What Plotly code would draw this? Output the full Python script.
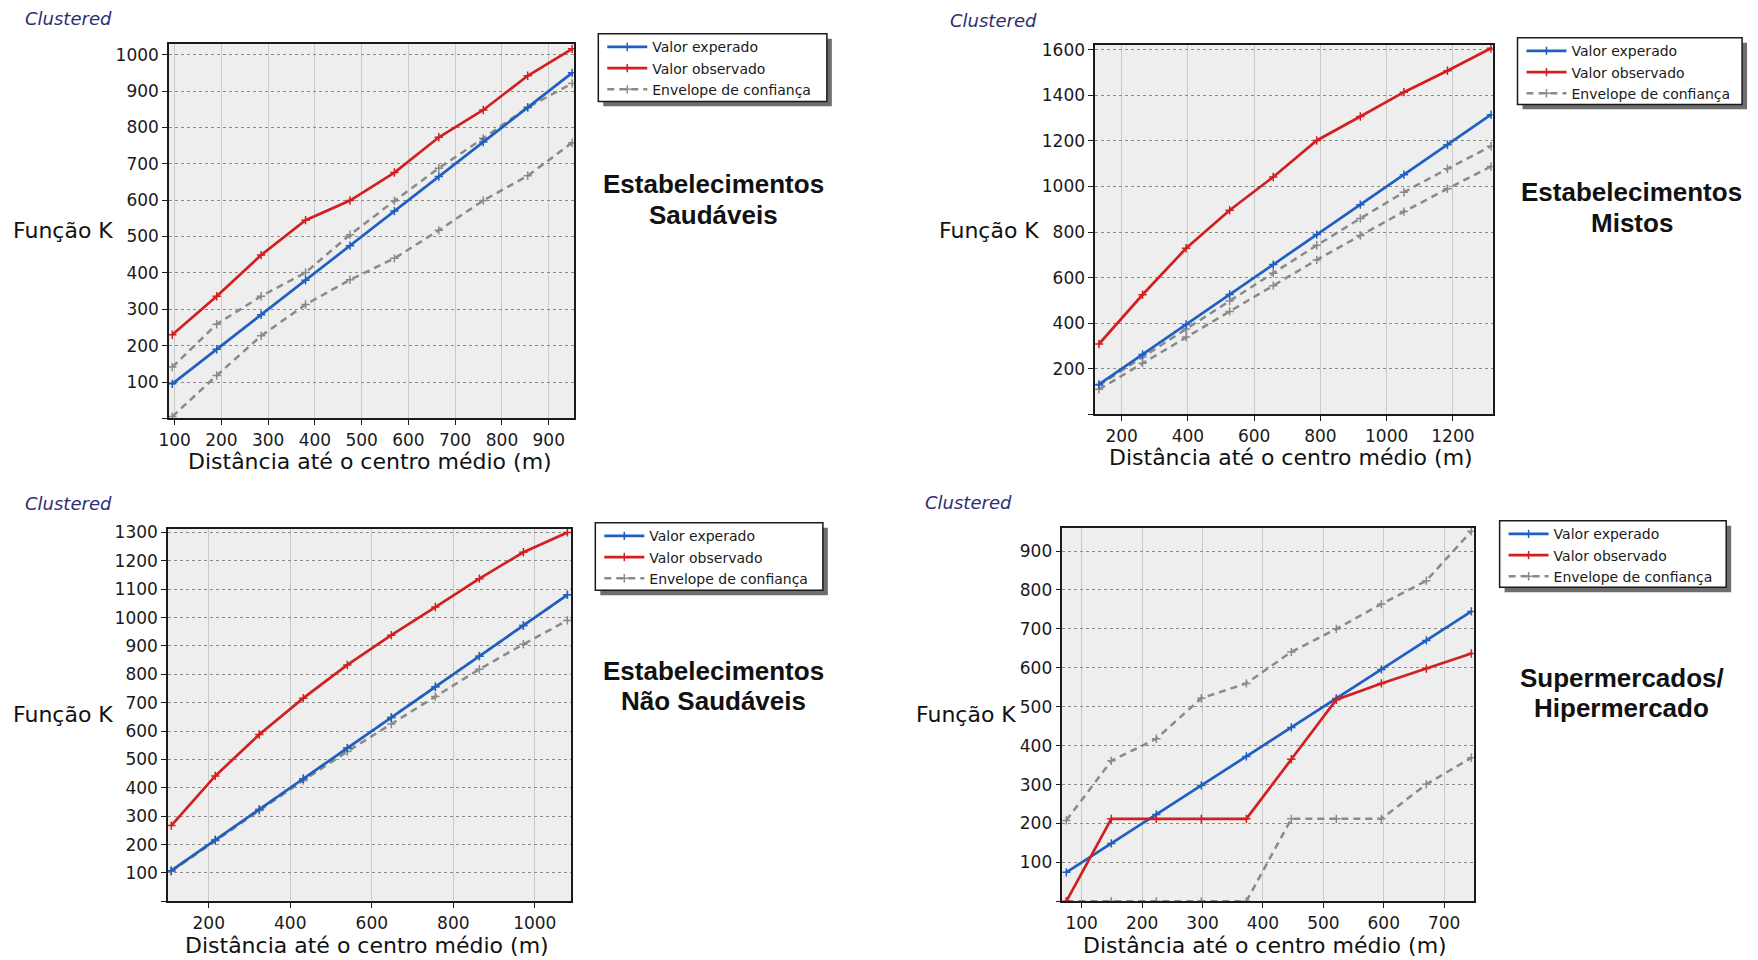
import plotly.graph_objects as go

W, H = 1758, 960

# ---------------- data ----------------
# Painel 1: Estabelecimentos Saudáveis
dist_saud = [95, 190, 285, 380, 475, 570, 665, 760, 855, 950]
esp_saud = [95, 190, 285, 380, 475, 570, 665, 760, 855, 950]
obs_saud = [230, 336, 449, 545, 599, 676, 773, 848, 942, 1016]
env_sup_saud = [141, 259, 336, 401, 505, 598, 688, 770, 855, 921]
env_inf_saud = [5, 118, 227, 313, 381, 440, 517, 599, 667, 758]

# Painel 2: Estabelecimentos Mistos
dist_mist = [131.5, 263, 394.5, 526, 657.5, 789, 920.5, 1052, 1183.5, 1315]
esp_mist = [131.5, 263, 394.5, 526, 657.5, 789, 920.5, 1052, 1183.5, 1315]
obs_mist = [309, 525, 729, 896, 1042, 1202, 1307, 1414, 1508, 1607]
env_sup_mist = [128, 252, 375, 498, 620, 742, 860, 975, 1078, 1177]
env_inf_mist = [110, 225, 340, 452, 565, 678, 785, 890, 990, 1088]

# Painel 3: Estabelecimentos Não Saudáveis
dist_nsaud = [108, 216, 324, 432, 540, 648, 756, 864, 972, 1080]
esp_nsaud = [108, 216, 324, 432, 540, 648, 756, 864, 972, 1080]
obs_nsaud = [267, 442, 588, 716, 833, 938, 1037, 1137, 1230, 1300]
env_sup_nsaud = [108, 216, 324, 432, 540, 648, 756, 864, 972, 1080]
env_inf_nsaud = [106, 214, 320, 426, 528, 625, 722, 818, 906, 990]

# Painel 4: Supermercados/Hipermercado
dist_super = [74.5, 149, 223.5, 298, 372.5, 447, 521.5, 596, 670.5, 745]
esp_super = [74.5, 149, 223.5, 298, 372.5, 447, 521.5, 596, 670.5, 745]
obs_super = [0, 212, 212, 212, 212, 365, 518, 560, 598, 637]
env_sup_super = [208, 361, 418, 522, 560, 641, 700, 764, 824, 951]
env_inf_super = [0, 0, 0, 0, 0, 212, 212, 212, 301, 369]

titulos = [["Estabelecimentos", "Saudáveis"], ["Estabelecimentos", "Mistos"],
           ["Estabelecimentos", "Não Saudáveis"], ["Supermercados/", "Hipermercado"]]
nomes = ["Valor experado", "Valor observado", "Envelope de confiança"]
x_titulo = "Distância até o centro médio (m)"
y_titulo = "Função K"

x_ticks = [[100, 200, 300, 400, 500, 600, 700, 800, 900],
           [200, 400, 600, 800, 1000, 1200],
           [200, 400, 600, 800, 1000],
           [100, 200, 300, 400, 500, 600, 700]]
y_ticks = [[0, 100, 200, 300, 400, 500, 600, 700, 800, 900, 1000],
           [0, 200, 400, 600, 800, 1000, 1200, 1400, 1600],
           [0, 100, 200, 300, 400, 500, 600, 700, 800, 900, 1000, 1100, 1200, 1300],
           [0, 100, 200, 300, 400, 500, 600, 700, 800, 900]]

# ---------------- layout geometry (pixels) ----------------
boxes = [(159, 38, 567, 415), (1091, 39, 1491, 411),
         (158, 526, 564, 901), (1058, 525, 1472, 901)]
x_ranges = [[88, 955], [120, 1320], [100, 1090], [68, 749]]
y_ranges = [[0, 1030], [0, 1622], [0, 1313], [0, 960]]
legend_box = [(591, 28, 821, 96), (1516, 32, 1742, 99),
              (588, 520, 817, 588), (1498, 518, 1726, 585)]
title_x = [707, 1631, 707, 1621]
title_y = [(179, 210), (187, 218), (669, 699), (676, 706)]
ylab_pos = [(52, 226), (984, 226), (52, 713), (961, 713)]
xlab_pos = [(361, 458), (1288, 454), (358, 945), (1262, 945)]
clus_pos = [(12, 13), (943, 15), (12, 501), (918, 500)]

BLUE = "#1f5fc0"
RED = "#d21f1f"
GRAY = "#8a8a8a"

panels = [
    (dist_saud, esp_saud, obs_saud, env_sup_saud, env_inf_saud),
    (dist_mist, esp_mist, obs_mist, env_sup_mist, env_inf_mist),
    (dist_nsaud, esp_nsaud, obs_nsaud, env_sup_nsaud, env_inf_nsaud),
    (dist_super, esp_super, obs_super, env_sup_super, env_inf_super),
]

fig = go.Figure()
layout = dict(
    width=W, height=H, margin=dict(l=0, r=0, t=0, b=0),
    paper_bgcolor="white", plot_bgcolor="#eeeeee", showlegend=True,
    font=dict(family="DejaVu Sans", color="#1a1a1a"),
)
annotations = []
shapes = []


def px(x):
    return x / W


def py(y):
    return 1 - y / H


def mk(color):
    return dict(symbol="cross-thin", size=6, color=color, line=dict(width=1.5, color=color))


for i, (d, e, o, es, ei) in enumerate(panels):
    k = "" if i == 0 else str(i + 1)
    xa, ya = "x" + k, "y" + k
    lg = "legend" + k
    fig.add_trace(go.Scatter(x=d, y=es, mode="lines+markers", xaxis=xa, yaxis=ya,
                             name=nomes[2], legend=lg, legendrank=3,
                             line=dict(color=GRAY, width=2.5, dash="7px,5px"), marker=mk(GRAY)))
    fig.add_trace(go.Scatter(x=d, y=ei, mode="lines+markers", xaxis=xa, yaxis=ya,
                             name=nomes[2], legend=lg, showlegend=False,
                             line=dict(color=GRAY, width=2.5, dash="7px,5px"), marker=mk(GRAY)))
    fig.add_trace(go.Scatter(x=d, y=e, mode="lines+markers", xaxis=xa, yaxis=ya,
                             name=nomes[0], legend=lg, legendrank=1,
                             line=dict(color=BLUE, width=2.7), marker=mk(BLUE)))
    fig.add_trace(go.Scatter(x=d, y=o, mode="lines+markers", xaxis=xa, yaxis=ya,
                             name=nomes[1], legend=lg, legendrank=2,
                             line=dict(color=RED, width=2.7), marker=mk(RED)))

    x0, y0, x1, y1 = boxes[i]
    common = dict(showline=True, linecolor="#1a1a1a", linewidth=1.5, mirror=True,
                  ticks="outside", ticklen=5, tickcolor="#1a1a1a", tickwidth=1,
                  zeroline=False, tickfont=dict(family="DejaVu Sans", size=17, color="#1a1a1a"))
    layout["xaxis" + k] = dict(domain=[px(x0), px(x1)], anchor=ya, range=x_ranges[i],
                               tickvals=x_ticks[i], showgrid=True, gridcolor="#c9c9c9",
                               gridwidth=1, **common)
    layout["yaxis" + k] = dict(domain=[py(y1), py(y0)], anchor=xa, range=y_ranges[i],
                               tickvals=y_ticks[i],
                               ticktext=["" if v == 0 else str(v) for v in y_ticks[i]],
                               showgrid=True, gridcolor="#8c8c8c", griddash="dot",
                               gridwidth=1, **common)

    # legend box with drop shadow drawn as shapes, legend itself transparent
    bx0, by0, bx1, by1 = legend_box[i]
    shapes.append(dict(type="rect", xref="paper", yref="paper",
                       x0=px(bx0 + 5), x1=px(bx1 + 5), y0=py(by1 + 5), y1=py(by0 + 5),
                       fillcolor="#6e6e6e", line=dict(width=0), layer="above"))
    shapes.append(dict(type="rect", xref="paper", yref="paper",
                       x0=px(bx0), x1=px(bx1), y0=py(by1), y1=py(by0),
                       fillcolor="white", line=dict(width=1.5, color="#1a1a1a"), layer="above"))
    layout[lg] = dict(x=px(bx0 + 4), y=py(by0 - 2.5), xanchor="left", yanchor="top",
                      bgcolor="rgba(0,0,0,0)", borderwidth=0,
                      font=dict(family="DejaVu Sans", size=14, color="#1a1a1a"),
                      itemwidth=40, tracegroupgap=0, traceorder="normal")

    # panel title (two lines)
    for line_txt, ty in zip(titulos[i], title_y[i]):
        annotations.append(dict(text="<b>" + line_txt + "</b>",
                                x=px(title_x[i]), y=py(ty), xref="paper", yref="paper",
                                xanchor="center", yanchor="middle", showarrow=False,
                                font=dict(family="Liberation Sans", size=26, color="#111111")))
    # y label
    yx, yy = ylab_pos[i]
    annotations.append(dict(text=y_titulo, x=px(yx), y=py(yy), xref="paper", yref="paper",
                            xanchor="center", yanchor="middle", showarrow=False,
                            font=dict(family="DejaVu Sans", size=22, color="#111111")))
    # x label
    lx, ly = xlab_pos[i]
    annotations.append(dict(text=x_titulo, x=px(lx), y=py(ly), xref="paper",
                            yref="paper", xanchor="center", yanchor="middle", showarrow=False,
                            font=dict(family="DejaVu Sans", size=22, color="#111111")))
    # "Clustered"
    cx, cy = clus_pos[i]
    annotations.append(dict(text="<i>Clustered</i>", x=px(cx), y=py(cy), xref="paper",
                            yref="paper", xanchor="left", yanchor="middle", showarrow=False,
                            font=dict(family="DejaVu Sans", size=18, color="#2d2d73")))

layout["annotations"] = annotations
layout["shapes"] = shapes
fig.update_layout(**layout)
fig.write_html("out.html", config={"displayModeBar": False},
               post_script="document.body.style.margin='0';document.body.style.overflow='hidden';")
